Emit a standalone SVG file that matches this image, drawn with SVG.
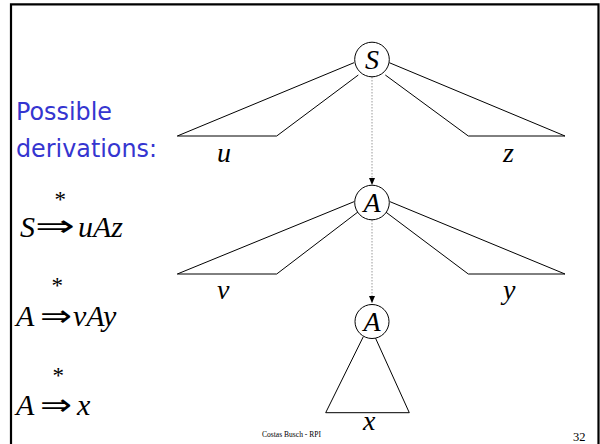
<svg xmlns="http://www.w3.org/2000/svg" width="600" height="444" viewBox="0 0 600 444">
<defs>
<style>
.frame{stroke:#000;stroke-width:2.2;fill:none}
.tree{stroke:#000;stroke-width:1;fill:none}
.node{fill:#fff;stroke:#000;stroke-width:1}
.lbl{font-family:"Liberation Serif","Times New Roman",serif;font-style:italic;font-size:28px;fill:#000}
.math{font-family:"Liberation Serif","Times New Roman",serif;font-style:italic;font-size:30px;fill:#000}
.arr{font-family:"DejaVu Sans","Liberation Serif",sans-serif;font-size:30px;fill:#000}
.star{font-family:"Liberation Serif","Times New Roman",serif;font-size:23px;fill:#000}
.blue{font-family:"Comic Sans MS","DejaVu Sans","Noto Sans",sans-serif;font-size:25px;fill:#3535d0}
.foot{font-family:"Liberation Serif","Times New Roman",serif;fill:#000}
.conn{stroke:#999;stroke-width:1;stroke-dasharray:1.5 1.5;fill:none}
</style>
<marker id="ah" markerWidth="8" markerHeight="8" refX="7" refY="4" orient="auto" markerUnits="userSpaceOnUse">
<path d="M0,1 L7,4 L0,7 Z" fill="#000"/>
</marker>
</defs>
<rect width="600" height="444" fill="#fff"/>
<g id="frame">
<path class="frame" d="M11,444 V4.3 H598.5 V444"/>
</g>
<g id="connectors">
<line class="conn" x1="372" y1="77" x2="372" y2="185" marker-end="url(#ah)"/>
<line class="conn" x1="372" y1="220" x2="372" y2="303" marker-end="url(#ah)"/>
</g>
<g id="tree-S">
<polyline class="tree" points="354,62.7 177.3,136 276.7,136 358.3,75"/>
<polyline class="tree" points="389.3,62.7 565,136 468.3,136 385.3,75"/>
<text class="lbl" x="217" y="162">u</text>
<text class="lbl" x="503" y="162">z</text>
</g>
<g id="node-S">
<circle class="node" cx="372" cy="59.5" r="17.3"/>
<text class="lbl" x="372" y="69" text-anchor="middle">S</text>
</g>
<g id="tree-A1">
<polyline class="tree" points="354,201.7 177.3,274 276.7,274 358.3,211.7"/>
<polyline class="tree" points="390,201.7 565,274 468.3,274 385.3,211.7"/>
<text class="lbl" x="217" y="299">v</text>
<text class="lbl" x="503" y="299">y</text>
</g>
<g id="node-A1">
<circle class="node" cx="372" cy="202.5" r="17.3"/>
<text class="lbl" x="372" y="212" text-anchor="middle">A</text>
</g>
<g id="tree-A2">
<polyline class="tree" points="363.3,336.7 325.7,412.7 409.3,412.7 375,337"/>
<text class="lbl" x="363" y="430">x</text>
</g>
<g id="node-A2">
<circle class="node" cx="372" cy="321.5" r="17"/>
<text class="lbl" x="372" y="331" text-anchor="middle">A</text>
</g>
<g id="caption">
<text class="blue" x="16" y="120" textLength="96" lengthAdjust="spacingAndGlyphs">Possible</text>
<text class="blue" x="16" y="157" textLength="141" lengthAdjust="spacingAndGlyphs">derivations:</text>
</g>
<g id="deriv1">
<text class="star" x="54.5" y="207">*</text>
<text class="math" x="20" y="237">S</text>
<text class="arr" x="35" y="236" textLength="40" lengthAdjust="spacingAndGlyphs">⇒</text>
<text class="math" x="78" y="237">uAz</text>
</g>
<g id="deriv2">
<text class="star" x="51.5" y="293">*</text>
<text class="math" x="16" y="326">A</text>
<text class="arr" x="40" y="326" textLength="32" lengthAdjust="spacingAndGlyphs">⇒</text>
<text class="math" x="73" y="326">vAy</text>
</g>
<g id="deriv3">
<text class="star" x="52.5" y="383">*</text>
<text class="math" x="16" y="415">A</text>
<text class="arr" x="40" y="415" textLength="32" lengthAdjust="spacingAndGlyphs">⇒</text>
<text class="math" x="77" y="415">x</text>
</g>
<g id="footer">
<text class="foot" x="262" y="437" font-size="8.5" textLength="59" lengthAdjust="spacingAndGlyphs">Costas Busch - RPI</text>
<text class="foot" x="573" y="441" font-size="12.5">32</text>
</g>
</svg>
